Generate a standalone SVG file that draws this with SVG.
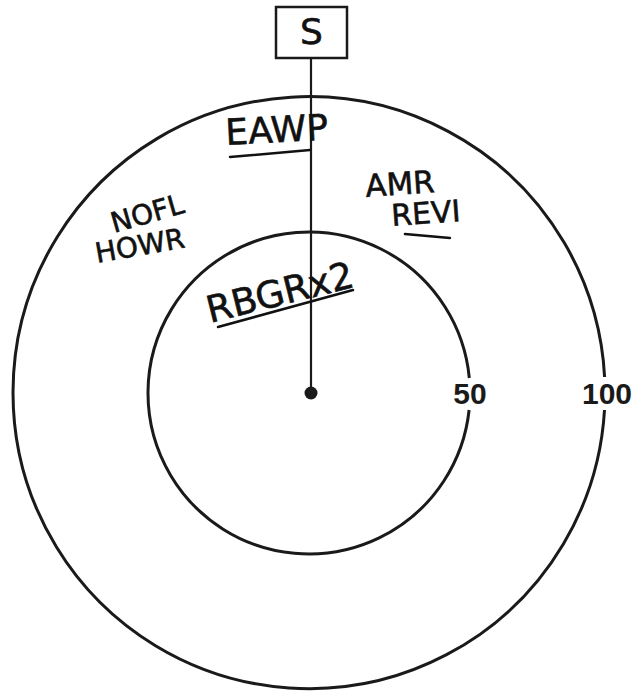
<svg xmlns="http://www.w3.org/2000/svg" width="634" height="692" viewBox="0 0 634 692">
<style>
.ring{fill:none;stroke:#1a1a1a;stroke-width:3}
.box{fill:#fff;stroke:#1a1a1a;stroke-width:2.5}
.conn{stroke:#1a1a1a;stroke-width:2.2;fill:none}
.hand{font-family:"DejaVu Sans",sans-serif;fill:#111;stroke:#111;stroke-width:0.6;stroke-linejoin:round}
.ul{stroke:#111;stroke-width:2.5;fill:none;stroke-linecap:round}
.num{font-family:"Liberation Sans",Arial,sans-serif;font-weight:bold;font-size:30px;fill:#1a1a1a;text-anchor:middle}
</style>
<rect width="634" height="692" fill="#fff"/>
<g id="outer-ring">
<path class="ring" d="M604.6 377 A296 296 0 1 0 604.5 410"/>
<text class="num" x="607" y="404">100</text>
</g>
<g id="inner-ring">
<path class="ring" d="M469.3 378 A161 161 0 1 0 469.1 410"/>
<text class="num" x="470" y="404">50</text>
</g>
<g id="connectors">
<line class="conn" x1="311" y1="58" x2="311" y2="393"/>
</g>
<g id="node-S">
<rect class="box" x="276" y="7" width="71" height="51"/>
<text x="311.5" y="44" font-family="DejaVu Sans,sans-serif" font-size="36" text-anchor="middle" fill="#111" stroke="#111" stroke-width="0.6">S</text>
</g>
<g id="center">
<circle cx="311" cy="393" r="6.5" fill="#1a1a1a"/>
</g>
<g id="label-EAWP">
<text class="hand" x="226" y="145" font-size="36" transform="rotate(-3 226 145)">EAWP</text>
<path class="ul" d="M230 157 L310 150"/>
</g>
<g id="label-AMR">
<text class="hand" x="366" y="197" font-size="31" transform="rotate(-4 366 197)">AMR</text>
<text class="hand" x="392" y="226" font-size="30" transform="rotate(-4 392 226)">REVI</text>
<path class="ul" d="M405 234 L450 238"/>
</g>
<g id="label-NOFL">
<text class="hand" x="114" y="233" font-size="28" transform="rotate(-16 114 233)">NOFL</text>
<text class="hand" x="97" y="263" font-size="28" transform="rotate(-10 97 263)">HOWR</text>
</g>
<g id="label-RBGR">
<text class="hand" x="210" y="323" font-size="37" transform="rotate(-14 210 323)">RBGRx2</text>
<path class="ul" d="M218 327 L353 290"/>
</g>
</svg>
